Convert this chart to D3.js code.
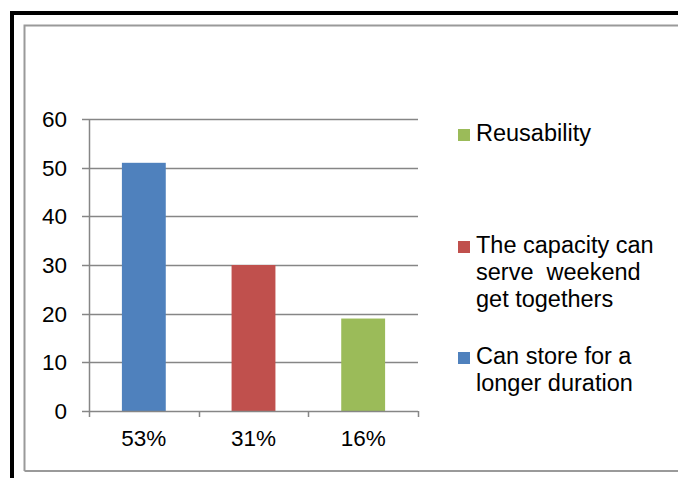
<!DOCTYPE html>
<html>
<head>
<meta charset="utf-8">
<script src="https://cdn.jsdelivr.net/npm/d3@7"></script>
<style>
  body { margin: 0; background: #fff; }
  svg text { font-family: "Liberation Sans", Arial, sans-serif; fill: #000; white-space: pre; }
</style>
</head>
<body>
<div id="chart"></div>
<script>
var categories = ["53%", "31%", "16%"];
var values = [51, 30, 19];
var barColors = ["#4F81BD", "#C0504D", "#9BBB59"];
var legendLabels = [
  ["Can store for a", "longer duration"],
  ["The capacity can", "serve  weekend", "get togethers"],
  ["Reusability"]
];
var yTicks = [0, 10, 20, 30, 40, 50, 60];

var width = 678, height = 478;
var svg = d3.select("#chart").append("svg")
  .attr("width", width)
  .attr("height", height);

// outer frame: black on top and left, grey chart border inside
svg.append("path")
  .attr("d", "M12,478 V13 H678")
  .attr("fill", "none")
  .attr("stroke", "#000")
  .attr("stroke-width", 4);
svg.append("path")
  .attr("d", "M24.5,471 V25.5 H678 M24.5,471 H678")
  .attr("fill", "none")
  .attr("stroke", "#9a9a9a")
  .attr("stroke-width", 2);

var x = d3.scaleBand().domain(categories).range([89, 418])
  .paddingInner(0.6).paddingOuter(0.3);
var xEdges = d3.scaleLinear().domain([0, categories.length]).range([89, 418]);
var y = d3.scaleLinear().domain([0, 60]).range([411, 119]);

var grid = "#868686";

// gridlines
svg.append("g").selectAll("line")
  .data(yTicks.filter(d => d > 0))
  .join("line")
  .attr("x1", 89).attr("x2", 418)
  .attr("y1", d => Math.round(y(d)) + 0.5).attr("y2", d => Math.round(y(d)) + 0.5)
  .attr("stroke", grid).attr("stroke-width", 1.5);

// bars
svg.append("g").selectAll("rect")
  .data(values)
  .join("rect")
  .attr("x", (d, i) => x(categories[i]))
  .attr("width", x.bandwidth())
  .attr("y", d => y(d))
  .attr("height", d => y(0) - y(d))
  .attr("fill", (d, i) => barColors[i]);

// y axis
var yAxis = svg.append("g");
yAxis.append("line")
  .attr("x1", 89.5).attr("x2", 89.5).attr("y1", y(60)).attr("y2", y(0))
  .attr("stroke", grid).attr("stroke-width", 1.5);
yAxis.selectAll("line.tick")
  .data(yTicks)
  .join("line")
  .attr("class", "tick")
  .attr("x1", 82).attr("x2", 89)
  .attr("y1", d => Math.round(y(d)) + 0.5).attr("y2", d => Math.round(y(d)) + 0.5)
  .attr("stroke", grid).attr("stroke-width", 1.5);
yAxis.selectAll("text")
  .data(yTicks)
  .join("text")
  .attr("x", 67)
  .attr("y", d => y(d) + 8)
  .attr("text-anchor", "end")
  .style("font-size", "22.5px")
  .text(d => d);

// x axis
var xAxis = svg.append("g");
xAxis.append("line")
  .attr("x1", 89).attr("x2", 418).attr("y1", 411.5).attr("y2", 411.5)
  .attr("stroke", grid).attr("stroke-width", 1.5);
xAxis.selectAll("line.tick")
  .data(d3.range(categories.length + 1))
  .join("line")
  .attr("class", "tick")
  .attr("x1", d => Math.round(xEdges(d)) + 0.5).attr("x2", d => Math.round(xEdges(d)) + 0.5)
  .attr("y1", 411).attr("y2", 417)
  .attr("stroke", grid).attr("stroke-width", 1.5);
xAxis.selectAll("text")
  .data(categories)
  .join("text")
  .attr("x", d => x(d) + x.bandwidth() / 2)
  .attr("y", 446)
  .attr("text-anchor", "middle")
  .style("font-size", "22.5px")
  .text(d => d);

// legend (reverse order, as in the original)
var legendTop = [141, 253, 364];
var legend = svg.append("g");
[2, 1, 0].forEach((idx, k) => {
  var g = legend.append("g");
  g.append("rect")
    .attr("x", 458).attr("y", legendTop[k] - 12)
    .attr("width", 12).attr("height", 12)
    .attr("fill", barColors[idx]);
  g.selectAll("text")
    .data(legendLabels[idx])
    .join("text")
    .attr("x", 476)
    .attr("y", (d, j) => legendTop[k] + j * 27)
    .style("font-size", "23.5px")
    .text(d => d);
});
</script>
</body>
</html>
